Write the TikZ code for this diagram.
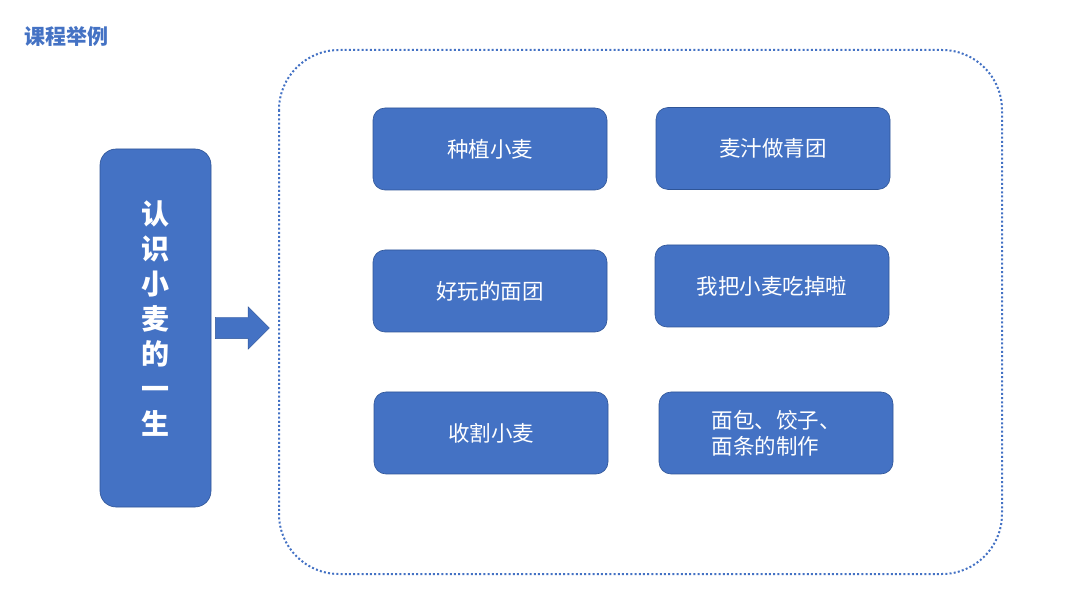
\documentclass[tikz,border=0pt]{standalone}
\usepackage{fontspec}
\usepackage{tikz}
\usetikzlibrary{positioning,shapes.arrows}
\newfontfamily\cjk{Noto Sans CJK SC}
\definecolor{accent}{HTML}{4472C4}
\definecolor{accentLine}{HTML}{2F5597}

\begin{document}
\begin{tikzpicture}[
    x=1pt, y=-1pt,
    every node/.style = {font=\cjk, align=center, inner sep=0pt},
    box/.style        = {draw=accentLine, line width=0.6pt, fill=accent,
                         rounded corners=12pt, text=white,
                         minimum width=234pt, minimum height=82pt,
                         font=\cjk\fontsize{21.5}{26}\selectfont},
    lifebox/.style    = {box, minimum width=111pt, minimum height=358pt,
                         rounded corners=16pt},
    lifetext/.style   = {text=white, font=\cjk\bfseries\fontsize{28}{35}\selectfont},
    frame/.style      = {draw=accent, line width=2pt, dash pattern=on 2pt off 2.2pt,
                         rounded corners=60pt},
    title/.style      = {text=accent, font=\cjk\bfseries\fontsize{21}{24}\selectfont},
  ]
  \useasboundingbox (0,0) rectangle (1080,612);

  %% Heading
  \node[title, anchor=west] (title) at (24,36) {课程举例};

  %% Left column: the theme (text sits a little above centre)
  \node[lifebox] (life) at (155.5,328) {};
  \node[lifetext] (lifename) at ([yshift=9pt]life.center) {认\\识\\小\\麦\\的\\一\\生};

  %% Frame holding the six lessons
  \draw[frame] (279,50) rectangle (1002,574);

  %% Block arrow from theme to lessons
  \node[single arrow, fill=accent, draw=accentLine, line width=0.4pt,
        inner sep=10.5pt, minimum width=42pt, minimum height=54pt,
        single arrow head extend=10.5pt] (go) at (237,328) {};

  %% Lessons, two columns
  \node[box] (plant)  at (490,149) {种植小麦};
  \node[box] (juice)  at (773,148.5) {麦汁做青团};
  \node[box] (dough)  at (490,291) {好玩的面团};
  \node[box] (eat)    at (772,286) {我把小麦吃掉啦};
  \node[box] (reap)   at (491,433) {收割小麦};
  \node[box, align=left] (bread) at (776,433) {面包、饺子、\\面条的制作};

\end{tikzpicture}
\end{document}
